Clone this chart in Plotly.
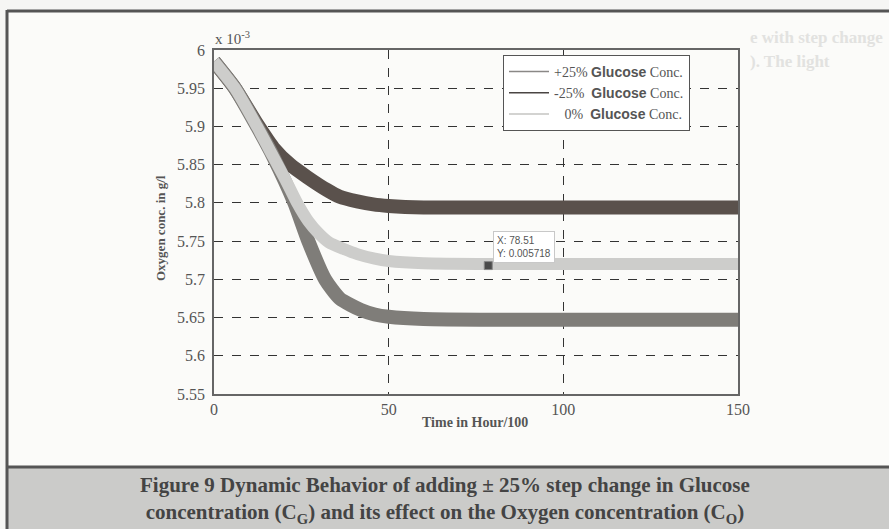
import plotly.graph_objects as go

# ---------------- data (oxygen concentration in units of 1e-3 g/l) ----------------
SCALE = 1e-3
t_minus = [0, 6, 12.5, 17, 21.8, 26.6, 32.3, 36, 41, 45.6, 50, 60, 80, 100, 120, 150]
o_minus = [5.985, 5.95, 5.902, 5.872, 5.85, 5.834, 5.817, 5.808, 5.802, 5.798, 5.796,
           5.794, 5.794, 5.794, 5.794, 5.794]

t_zero = [0, 6, 12.3, 17, 20.5, 23.8, 27, 30, 33, 37, 41, 46, 50, 60, 80, 100, 150]
o_zero = [5.985, 5.95, 5.9, 5.86, 5.83, 5.8, 5.776, 5.76, 5.748, 5.74, 5.733, 5.727,
          5.724, 5.721, 5.72, 5.72, 5.72]

t_plus = [0, 6, 12.3, 17, 23, 27, 31.8, 36, 42, 46, 50, 60, 80, 150]
o_plus = [5.985, 5.95, 5.9, 5.86, 5.8, 5.75, 5.7, 5.675, 5.66, 5.654, 5.651, 5.648,
          5.647, 5.647]

legend_names = ["+25%", "-25%", "0%"]
tip_x = [78.51]
tip_y = [5.718]

x_ticks = [0, 50, 100, 150]
y_ticks = [5.55, 5.6, 5.65, 5.7, 5.75, 5.8, 5.85, 5.9, 5.95, 6.0]
y_ticktext = ["5.55", "5.6", "5.65", "5.7", "5.75", "5.8", "5.85", "5.9", "5.95", "6"]

caption = ("Figure 9 Dynamic Behavior of adding ± 25% step change in Glucose<br>"
           "concentration (C<sub>G</sub>) and its effect on the Oxygen concentration (C<sub>O</sub>)")
ghost_lines = ["e with step change", "). The light"]

# ---------------- layout geometry ----------------
W, H = 889, 529
L, R, T, B = 214, 738, 50, 394
def px(x):
    return (x - L) / (R - L)
def py(y):
    return (B - y) / (B - T)

C_DARK = "#5a514c"
C_MED = "#7f7d79"
C_LIGHT = "#cdcdcb"
SERIF = "Liberation Serif"

fig = go.Figure()

fig.add_trace(go.Scatter(x=t_minus, y=o_minus, mode="lines", line=dict(color=C_DARK, width=14, shape="spline", smoothing=0.6), showlegend=False, hoverinfo="skip"))
fig.add_trace(go.Scatter(x=t_plus, y=o_plus, mode="lines", line=dict(color=C_MED, width=14, shape="spline", smoothing=0.6), showlegend=False, hoverinfo="skip"))
fig.add_trace(go.Scatter(x=t_zero, y=o_zero, mode="lines", line=dict(color=C_LIGHT, width=12, shape="spline", smoothing=0.6), showlegend=False, hoverinfo="skip"))

# legend entries (thin samples)
leg_cols = ["#8a8886", "#4a4543", "#c4c4c2"]
leg_prefix = ["+25%", "-25%&nbsp;", "&nbsp;&nbsp;&nbsp;0%&nbsp;"]
for name, pre, col in zip(legend_names, leg_prefix, leg_cols):
    fig.add_trace(go.Scatter(
        x=[None], y=[None], mode="lines", line=dict(color=col, width=1.5),
        name=pre + ' <span style="font-family:Arial;font-size:14px"><b>Glucose</b></span> Conc.'))

# data tip marker
fig.add_trace(go.Scatter(x=tip_x, y=tip_y, mode="markers", marker=dict(symbol="square", size=8, color="#4a4a4a", line=dict(width=1, color="#888")), showlegend=False, hoverinfo="skip"))

fig.add_annotation(x=tip_x[0], y=tip_y[0], xref="x", yref="y",
                   text="X: %.2f<br>Y: %.6f" % (tip_x[0], tip_y[0] * SCALE),
                   showarrow=False, xanchor="left", yanchor="bottom", xshift=5, yshift=3,
                   align="left", bgcolor="white", bordercolor="#c8c8c8", borderwidth=1, borderpad=3,
                   font=dict(family="Arial", size=10, color="#555"))

# axis titles and exponent
fig.add_annotation(x=px(475), y=py(422), xref="paper", yref="paper", text="<b>Time in Hour/100</b>",
                   showarrow=False, xanchor="center", yanchor="middle",
                   font=dict(family=SERIF, size=14, color="#555"))
fig.add_annotation(x=px(160), y=py(228), xref="paper", yref="paper", text="<b>Oxygen conc. in g/l</b>",
                   showarrow=False, textangle=-90, xanchor="center", yanchor="middle",
                   font=dict(family=SERIF, size=13, color="#555"))
fig.add_annotation(x=px(213), y=py(49), xref="paper", yref="paper", text="x 10<sup>-3</sup>",
                   showarrow=False, xanchor="left", yanchor="bottom",
                   font=dict(family=SERIF, size=15, color="#555"))

# faint show-through text from the scanned page (top right)
for ln, yc in zip(ghost_lines, [38, 62]):
    fig.add_annotation(x=px(748), y=py(yc), xref="paper", yref="paper", text="<b>" + ln + "</b>",
                       showarrow=False, xanchor="left", yanchor="middle",
                       font=dict(family=SERIF, size=17, color="#e2e2e0"))

# caption
fig.add_annotation(x=px(445), y=py(500), xref="paper", yref="paper", text="<b>" + caption + "</b>",
                   showarrow=False, xanchor="center", yanchor="middle", align="center",
                   font=dict(family=SERIF, size=21, color="#444"))

# page frame and caption band
shapes = [
    dict(type="rect", xref="paper", yref="paper", x0=px(8), x1=px(W + 5), y0=py(468), y1=py(H + 5),
         fillcolor="#cbcbc9", line=dict(width=0), layer="below"),
    dict(type="rect", xref="paper", yref="paper", x0=px(8), x1=px(W + 5), y0=py(12), y1=py(467),
         fillcolor="#fbfbf9", line=dict(width=0), layer="below"),
    dict(type="line", xref="paper", yref="paper", x0=px(7), x1=px(W + 5), y0=py(11), y1=py(11),
         line=dict(color="#555", width=3)),
    dict(type="line", xref="paper", yref="paper", x0=px(7), x1=px(7), y0=py(10), y1=py(H + 5),
         line=dict(color="#555", width=3)),
    dict(type="line", xref="paper", yref="paper", x0=px(7), x1=px(W + 5), y0=py(467), y1=py(467),
         line=dict(color="#555", width=3)),
]

fig.update_layout(
    width=W, height=H,
    margin=dict(l=L, r=W - R, t=T, b=H - B, pad=0),
    paper_bgcolor="#f6f6f4", plot_bgcolor="white",
    shapes=shapes,
    showlegend=True,
    legend=dict(x=px(503), y=py(55), xanchor="left", yanchor="top",
                bgcolor="white", bordercolor="#555", borderwidth=1,
                font=dict(family=SERIF, size=14, color="#555"),
                tracegroupgap=0, itemwidth=40),
    xaxis=dict(range=[0, 150], tickvals=x_ticks, ticktext=[str(v) for v in x_ticks],
               showgrid=True, gridcolor="#333", griddash="dash", gridwidth=1,
               zeroline=False, showline=True, linecolor="#666", linewidth=1.5, mirror=True,
               ticks="", tickfont=dict(family=SERIF, size=16, color="#555")),
    yaxis=dict(range=[5.55, 6.0], tickvals=y_ticks, ticktext=y_ticktext,
               showgrid=True, gridcolor="#333", griddash="dash", gridwidth=1,
               zeroline=False, showline=True, linecolor="#666", linewidth=1.5, mirror=True,
               ticks="", ticklabelstandoff=4, tickfont=dict(family=SERIF, size=16, color="#555")),
)

fig.write_html("out.html")
